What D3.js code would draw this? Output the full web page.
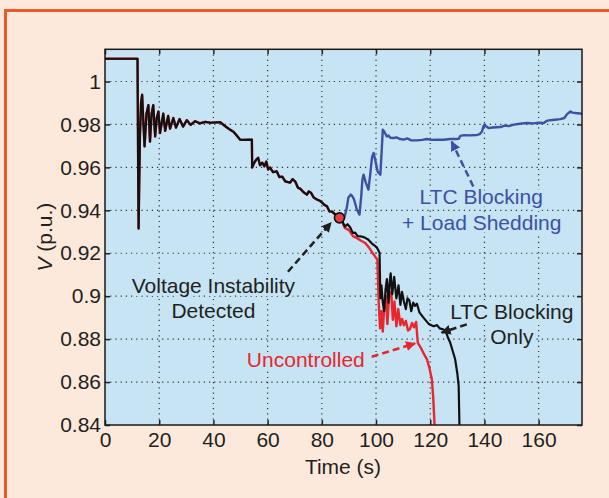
<!DOCTYPE html>
<html>
<head>
<meta charset="utf-8">
<script src="https://cdn.jsdelivr.net/npm/d3@7"></script>
<style>
  body { margin: 0; background: #fde9dc; }
  svg text { font-family: "Liberation Sans", Arial, sans-serif; fill: #231f20; }
</style>
</head>
<body>
<div id="chart"></div>
<script>
// tick values
var xTicks = [0, 20, 40, 60, 80, 100, 120, 140, 160]
var yTicks = [0.84, 0.86, 0.88, 0.9, 0.92, 0.94, 0.96, 0.98, 1]

// common part of the three runs (time s, voltage p.u.)
var preDetection = [
  [0, 1.0106], [12.0, 1.0106], [12.1, 0.99], [12.25, 0.955], [12.4, 0.9315], [12.6, 0.95],
  [12.9, 0.975], [13.3, 0.99], [13.7, 0.9938], [14.2, 0.98], [14.6, 0.9698], [15.3, 0.985],
  [16.0, 0.989], [16.6, 0.972], [17.2, 0.985], [17.8, 0.989], [18.5, 0.9744], [19.1, 0.983],
  [19.7, 0.986], [20.3, 0.976], [21.5, 0.985], [22.2, 0.977], [23.3, 0.984], [24.0, 0.978],
  [25.2, 0.983], [26.2, 0.9785], [27.5, 0.9825], [28.8, 0.979], [30.2, 0.982], [31.6, 0.9798],
  [33.2, 0.9815], [35, 0.9805], [37, 0.9812], [39, 0.9808], [42.5, 0.9811], [44, 0.9795],
  [46.2, 0.9775], [47.5, 0.9765], [49.9, 0.9729], [51, 0.9728], [54.2, 0.9729], [54.3, 0.9599],
  [55, 0.962], [55.8, 0.9636], [56.5, 0.9645], [57.2, 0.961], [58, 0.9622], [58.8, 0.9605],
  [59.5, 0.9627], [60.2, 0.959], [60.9, 0.9599], [62, 0.9578], [63.4, 0.9581], [64.3, 0.9555],
  [65.4, 0.9557], [66.5, 0.9535], [68.3, 0.9529], [69.2, 0.9545], [70.2, 0.9534], [71.2, 0.9505],
  [72, 0.9501], [73.2, 0.9485], [74.5, 0.9473], [75.2, 0.9488], [76, 0.9482], [77, 0.946],
  [78.2, 0.945], [79.2, 0.9445], [80.1, 0.9436], [81, 0.9425], [81.9, 0.9419], [82.8, 0.9395],
  [83.8, 0.9394], [85, 0.938], [86.5, 0.9365]
]

// LTC blocking only (black)
var blockingOnly = [
  [87.5, 0.935], [88.5, 0.9325], [89.5, 0.9335], [90.5, 0.932], [91.4, 0.9295], [92.3, 0.9296],
  [93.2, 0.928], [94.2, 0.9279], [95.5, 0.9275], [97.1, 0.9264], [98.5, 0.9245], [99.5, 0.9235],
  [100.3, 0.9227], [101.0, 0.921], [101.3, 0.9202], [101.6, 0.899], [102.0, 0.905], [102.5, 0.897],
  [103.0, 0.893], [103.5, 0.903], [104.0, 0.908], [104.6, 0.897], [105.0, 0.906], [105.4, 0.9106],
  [106.0, 0.901], [106.7, 0.909], [107.5, 0.899], [108.3, 0.905], [109.0, 0.896], [109.6, 0.902],
  [110.3, 0.8975], [111.0, 0.894], [111.6, 0.899], [112.3, 0.898], [113.0, 0.893], [113.7, 0.897],
  [114.4, 0.8955], [115.1, 0.8965], [116.0, 0.8925], [117.5, 0.890], [118.5, 0.8885], [119.5, 0.887],
  [121.2, 0.886], [122.5, 0.8865], [123.5, 0.885], [124.9, 0.8845], [125.8, 0.8835], [126.6, 0.8805],
  [127.4, 0.8783], [128.4, 0.874], [129.2, 0.8706], [130.0, 0.864], [130.5, 0.8581], [130.8, 0.838]
]

// uncontrolled (red)
var uncontrolled = [
  [87.5, 0.9348], [88.5, 0.9318], [90, 0.9308], [91.5, 0.928], [93, 0.927], [94.5, 0.9258],
  [96, 0.9248], [97.5, 0.9225], [98.5, 0.9205], [99.5, 0.9188], [100.5, 0.917], [101.0, 0.897],
  [101.5, 0.885], [102.0, 0.893], [102.5, 0.8835], [103.0, 0.895], [103.6, 0.900], [104.2, 0.887],
  [104.8, 0.8995], [105.6, 0.902], [106.2, 0.889], [106.8, 0.8975], [107.5, 0.886], [108.2, 0.894],
  [109.0, 0.8865], [109.6, 0.8894], [110.3, 0.8865], [111.0, 0.8885], [111.8, 0.884], [112.5, 0.8847],
  [113.3, 0.8875], [114.0, 0.8855], [114.8, 0.888], [115.4, 0.8783], [116.5, 0.876], [117.5, 0.8735],
  [118.8, 0.8706], [119.8, 0.866], [120.6, 0.8613], [121.1, 0.853], [121.5, 0.8426], [121.6, 0.838]
]

// LTC blocking + load shedding (blue)
var loadShedding = [
  [86.5, 0.9365], [87.5, 0.9355], [88.3, 0.9365], [89.2, 0.941], [89.8, 0.946], [90.7, 0.9473],
  [91.3, 0.9465], [91.9, 0.945], [92.9, 0.9405], [93.9, 0.938], [94.5, 0.946], [95.0, 0.9545],
  [95.4, 0.9566], [96.2, 0.953], [97.2, 0.9496], [97.8, 0.956], [98.5, 0.9645], [99.1, 0.9667],
  [99.8, 0.963], [100.6, 0.958], [101.6, 0.9566], [102.1, 0.968], [102.5, 0.9775], [103.1, 0.9765],
  [104, 0.9744], [104.6, 0.9748], [105.3, 0.9738], [106.5, 0.9737], [107.5, 0.974], [108.9, 0.9732],
  [110.2, 0.9729], [111.5, 0.9735], [113, 0.9726], [115.1, 0.9726], [117, 0.9728], [118.8, 0.9732],
  [120.5, 0.9728], [122.5, 0.9729], [125, 0.9729], [127.4, 0.9732], [129.5, 0.9732], [130.5, 0.9733],
  [131.1, 0.9747], [132.5, 0.975], [134.5, 0.9749], [137.3, 0.9751], [138.3, 0.9755], [139.1, 0.9767],
  [139.6, 0.979], [140, 0.9799], [140.7, 0.979], [141.5, 0.9783], [143, 0.9786], [145.9, 0.9788],
  [147.5, 0.9795], [149, 0.9792], [150.8, 0.9799], [152.5, 0.9802], [154, 0.9805], [155.7, 0.9807],
  [158, 0.9805], [160, 0.9808], [161.9, 0.9807], [162.8, 0.9815], [163.7, 0.9819], [166, 0.9822],
  [168, 0.9825], [169.5, 0.983], [170.5, 0.9848], [171.7, 0.986], [172.5, 0.9855], [173.6, 0.9853],
  [176, 0.985]
]

var detectionPoint = [86.5, 0.9365]

// annotation texts: [t, v, text, colour]
var labels = [
  [40, 0.9016, "Voltage Instability", "#231f20"],
  [40, 0.8898, "Detected", "#231f20"],
  [74.1, 0.8672, "Uncontrolled", "#e8262b"],
  [138.8, 0.9429, "LTC Blocking", "#3c51a3"],
  [139, 0.9308, "+ Load Shedding", "#3c51a3"],
  [150.1, 0.8896, "LTC Blocking", "#231f20"],
  [150.1, 0.8777, "Only", "#231f20"]
]
// dashed arrows: [t0, v0, t1, v1, colour]
var arrows = [
  [67.5, 0.9114, 83.4, 0.9342, "#231f20"],
  [98.4, 0.8718, 114.4, 0.878, "#e8262b"],
  [135.9, 0.9511, 127.9, 0.972, "#3c51a3"],
  [133.5, 0.8869, 124.2, 0.883, "#231f20"]
]

var width = 609, height = 498
var plotLeft = 105, plotRight = 582, plotTop = 49.3, plotBottom = 425
var plotFill = '#c6e4f3'

var svg = d3.select('#chart').append('svg')
  .attr('width', width)
  .attr('height', height)

svg.append('rect')
  .attr('width', width).attr('height', height)
  .attr('fill', '#fde9dc')
svg.append('rect')
  .attr('x', 5.5).attr('y', 10.5)
  .attr('width', 640).attr('height', 520)
  .attr('fill', 'none')
  .attr('stroke', '#e95a2b')
  .attr('stroke-width', 3)

var x = d3.scaleLinear().domain([0, 176]).range([plotLeft, plotRight])
var y = d3.scaleLinear().domain([0.84, 1.015]).range([plotBottom, plotTop])

svg.append('rect')
  .attr('x', plotLeft).attr('y', plotTop)
  .attr('width', plotRight - plotLeft).attr('height', plotBottom - plotTop)
  .attr('fill', plotFill)

// dotted grid
svg.append('g').selectAll('line')
  .data(xTicks.slice(1))
  .enter().append('line')
  .attr('x1', function(d){ return x(d) }).attr('x2', function(d){ return x(d) })
  .attr('y1', plotTop).attr('y2', plotBottom)
  .attr('stroke', '#333').attr('stroke-width', 1.2)
  .attr('stroke-dasharray', '1.2,4')
svg.append('g').selectAll('line')
  .data(yTicks.slice(1))
  .enter().append('line')
  .attr('x1', plotLeft).attr('x2', plotRight)
  .attr('y1', function(d){ return y(d) }).attr('y2', function(d){ return y(d) })
  .attr('stroke', '#333').attr('stroke-width', 1.2)
  .attr('stroke-dasharray', '1.2,4')

// axes, ticks pointing inwards
var fmt = function(d){ return String(d) }
svg.append('g')
  .attr('transform', 'translate(0,' + plotBottom + ')')
  .call(d3.axisBottom(x).tickValues(xTicks).tickFormat(fmt).tickSizeInner(-5).tickSizeOuter(0).tickPadding(7))
svg.append('g')
  .attr('transform', 'translate(' + plotLeft + ',0)')
  .call(d3.axisLeft(y).tickValues(yTicks).tickFormat(fmt).tickSizeInner(-5).tickSizeOuter(0).tickPadding(4))
svg.append('g')
  .attr('transform', 'translate(0,' + plotTop + ')')
  .call(d3.axisTop(x).tickValues(xTicks).tickFormat('').tickSizeInner(-5).tickSizeOuter(0))
svg.append('g')
  .attr('transform', 'translate(' + plotRight + ',0)')
  .call(d3.axisRight(y).tickValues(yTicks).tickFormat('').tickSizeInner(-5).tickSizeOuter(0))
svg.selectAll('.domain').remove()
svg.selectAll('.tick line').attr('stroke', '#222').attr('stroke-width', 1.5)
svg.selectAll('.tick text').style('font-size', '21px').attr('fill', '#231f20')

// annotation text sits on the plot colour, hiding the grid behind it
svg.append('g').selectAll('text')
  .data(labels)
  .enter().append('text')
  .attr('x', function(d){ return x(d[0]) })
  .attr('y', function(d){ return y(d[1]) })
  .attr('text-anchor', 'middle')
  .style('font-size', '21px')
  .style('fill', plotFill)
  .attr('stroke', plotFill).attr('stroke-width', 6)
  .attr('stroke-linejoin', 'round')
  .text(function(d){ return d[2] })

// series
svg.append('clipPath').attr('id', 'plotclip')
  .append('rect')
  .attr('x', plotLeft).attr('y', plotTop)
  .attr('width', plotRight - plotLeft).attr('height', plotBottom - plotTop)

var line = d3.line()
  .x(function(d){ return x(d[0]) })
  .y(function(d){ return y(d[1]) })

var plot = svg.append('g').attr('clip-path', 'url(#plotclip)')
plot.append('path')
  .datum(preDetection.concat(uncontrolled))
  .attr('d', line).attr('fill', 'none')
  .attr('stroke', '#e8262b').attr('stroke-width', 2.4)
  .attr('stroke-linejoin', 'round')
plot.append('path')
  .datum(preDetection.concat(blockingOnly))
  .attr('d', line).attr('fill', 'none')
  .attr('stroke', '#111').attr('stroke-width', 2.2)
  .attr('stroke-linejoin', 'round')
plot.append('path')
  .datum(loadShedding)
  .attr('d', line).attr('fill', 'none')
  .attr('stroke', '#3c51a3').attr('stroke-width', 2.4)
  .attr('stroke-linejoin', 'round')

plot.append('circle')
  .attr('cx', x(detectionPoint[0])).attr('cy', y(detectionPoint[1]))
  .attr('r', 5)
  .attr('fill', '#e84040')
  .attr('stroke', '#111').attr('stroke-width', 1.6)

// frame
svg.append('rect')
  .attr('x', plotLeft).attr('y', plotTop)
  .attr('width', plotRight - plotLeft).attr('height', plotBottom - plotTop)
  .attr('fill', 'none')
  .attr('stroke', '#1a1a1a').attr('stroke-width', 1.5)

// annotations
var defs = svg.append('defs')
arrows.forEach(function(a, i){
  defs.append('marker')
    .attr('id', 'head' + i)
    .attr('viewBox', '0 0 10 10')
    .attr('refX', 9).attr('refY', 5)
    .attr('markerWidth', 4).attr('markerHeight', 4)
    .attr('orient', 'auto')
    .append('path')
    .attr('d', 'M0,0L10,5L0,10z')
    .attr('fill', a[4])
  svg.append('line')
    .attr('x1', x(a[0])).attr('y1', y(a[1]))
    .attr('x2', x(a[2])).attr('y2', y(a[3]))
    .attr('stroke', a[4]).attr('stroke-width', 2.5)
    .attr('stroke-dasharray', '7,4')
    .attr('marker-end', 'url(#head' + i + ')')
})

svg.append('g').selectAll('text')
  .data(labels)
  .enter().append('text')
  .attr('x', function(d){ return x(d[0]) })
  .attr('y', function(d){ return y(d[1]) })
  .attr('text-anchor', 'middle')
  .style('font-size', '21px')
  .style('fill', function(d){ return d[3] })
  .text(function(d){ return d[2] })

// axis titles
svg.append('text')
  .attr('x', (plotLeft + plotRight) / 2 - 0.5).attr('y', 474)
  .attr('text-anchor', 'middle')
  .style('font-size', '21px')
  .text('Time (s)')

var yTitle = svg.append('text')
  .attr('transform', 'translate(52,' + ((plotTop + plotBottom) / 2) + ') rotate(-90)')
  .attr('text-anchor', 'middle')
  .style('font-size', '21px')
yTitle.append('tspan').style('font-style', 'italic').text('V')
yTitle.append('tspan').text(' (p.u.)')
</script>
</body>
</html>
